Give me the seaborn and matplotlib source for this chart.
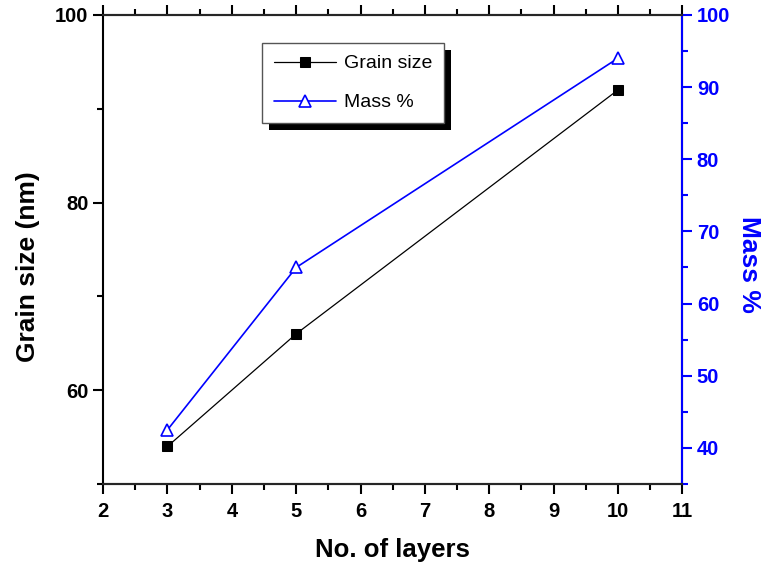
import matplotlib
matplotlib.use('Agg')
import matplotlib.pyplot as plt
from matplotlib.patches import Rectangle
from matplotlib.ticker import MultipleLocator, FixedLocator
import seaborn as sns


# Données
layers = [3, 5, 10]
grain_size = [54, 66, 92]
mass_pct = [42.5, 65, 94]

x_ticks = [2, 3, 4, 5, 6, 7, 8, 9, 10, 11]
left_ticks = [60, 80, 100]
right_ticks = [40, 50, 60, 70, 80, 90, 100]

BLUE = '#0000ff'

sns.set_style('ticks')
plt.rcParams['font.family'] = ['Liberation Sans', 'DejaVu Sans']
plt.rcParams['text.color'] = 'black'
plt.rcParams['axes.labelcolor'] = 'black'

fig = plt.figure(figsize=(7.64, 5.66), dpi=100)
ax = fig.add_axes([0.135, 0.145, 0.758, 0.8286])
ax2 = ax.twinx()

sns.lineplot(x=layers, y=grain_size, ax=ax, color='black', lw=0.9,
             marker='s', markersize=7, markerfacecolor='black',
             markeredgecolor='black', label='Grain size')
sns.lineplot(x=layers, y=mass_pct, ax=ax2, color=BLUE, lw=1.2,
             marker='^', markersize=9, markerfacecolor='white',
             markeredgecolor=BLUE, markeredgewidth=1.2, label='Mass %')
for a in (ax, ax2):
    if a.get_legend() is not None:
        a.get_legend().remove()

# Axes
ax.set_xlim(2, 11)
ax.set_ylim(50, 100)
ax2.set_ylim(35, 100)
ax.xaxis.set_major_locator(FixedLocator(x_ticks))
ax.xaxis.set_minor_locator(MultipleLocator(0.5))
ax.yaxis.set_major_locator(FixedLocator(left_ticks))
ax.yaxis.set_minor_locator(FixedLocator([50, 70, 90]))
ax2.yaxis.set_major_locator(FixedLocator(right_ticks))
ax2.yaxis.set_minor_locator(MultipleLocator(5))

for s in ax.spines.values():
    s.set_linewidth(1.5)
    s.set_color('black')
for s in ax2.spines.values():
    s.set_linewidth(1.5)
ax2.spines['right'].set_color(BLUE)
ax2.spines['left'].set_visible(False)

ax.tick_params(axis='x', which='both', direction='out', top=True,
               labeltop=False, width=1.5, colors='black')
ax.tick_params(axis='x', which='major', length=7, labelsize=14.5, pad=6)
ax.tick_params(axis='x', which='minor', length=4)
ax.tick_params(axis='y', which='both', direction='out', width=1.5,
               colors='black', right=False)
ax.tick_params(axis='y', which='major', length=7, labelsize=14.5)
ax.tick_params(axis='y', which='minor', length=4)
ax2.tick_params(axis='y', which='both', direction='out', width=1.5,
                colors=BLUE)
ax2.tick_params(axis='y', which='major', length=7, labelsize=14.5)
ax2.tick_params(axis='y', which='minor', length=4)

for lab in ax.get_xticklabels() + ax.get_yticklabels() + ax2.get_yticklabels():
    lab.set_fontweight('bold')

ax.set_xlabel('No. of layers', fontsize=18.5, fontweight='bold', labelpad=12)
ax.set_ylabel('Grain size (nm)', fontsize=19, fontweight='bold', va='center')
ax.yaxis.set_label_coords(-0.129, 0.463)
ax2.set_ylabel('Mass %', fontsize=19, fontweight='bold', color=BLUE,
               rotation=270, va='center')
ax2.yaxis.set_label_coords(1.115, 0.467)

# Légende style Origin avec ombre noire
h1, l1 = ax.get_legend_handles_labels()
h2, l2 = ax2.get_legend_handles_labels()
leg = ax2.legend(h1 + h2, l1 + l2, loc='upper left',
                 bbox_to_anchor=(0.275, 0.94), borderaxespad=0,
                 fontsize=14, frameon=True, fancybox=False,
                 edgecolor='#555555', handlelength=3.2, handletextpad=0.4,
                 borderpad=0.6, labelspacing=1.1)
leg.get_frame().set_linewidth(1.0)
leg.get_frame().set_alpha(1)

fig.canvas.draw()
bb = leg.get_window_extent()
shadow = Rectangle((bb.x0 + 7, bb.y0 - 7), bb.width, bb.height,
                   transform=None, facecolor='black', edgecolor='none',
                   zorder=4.9, clip_on=False)
ax2.add_artist(shadow)

fig.savefig('out.png', dpi=100)
